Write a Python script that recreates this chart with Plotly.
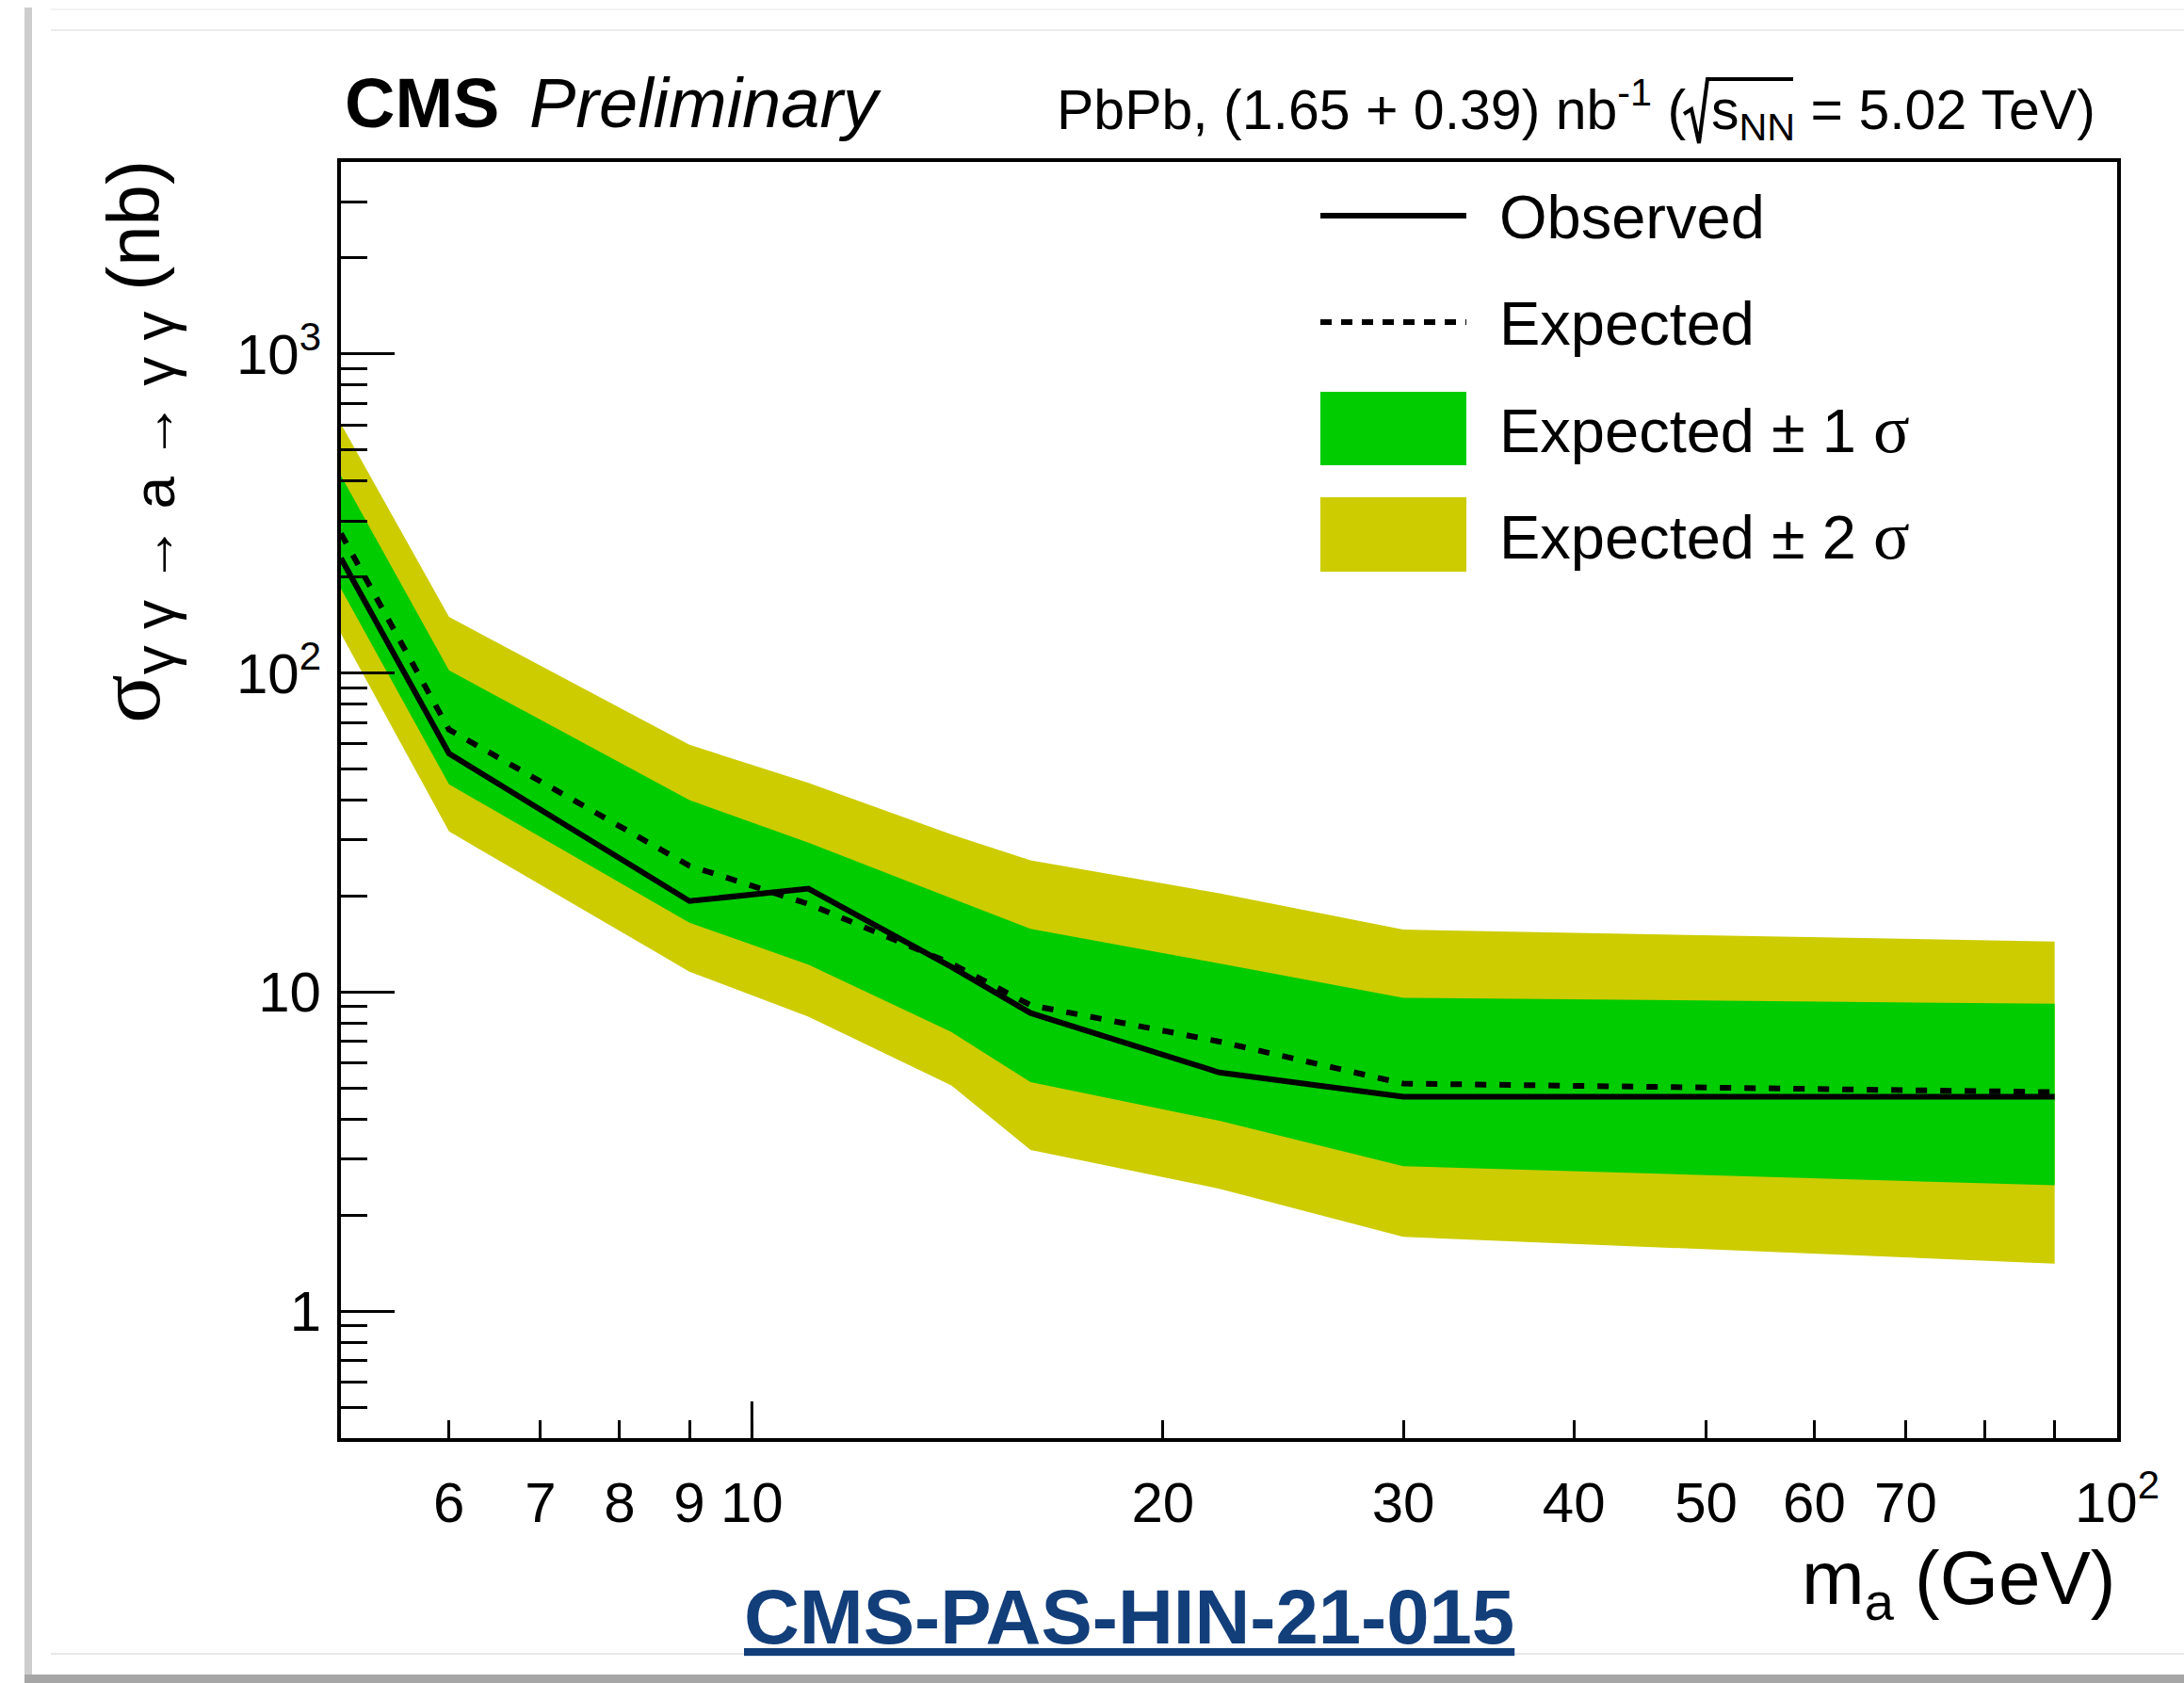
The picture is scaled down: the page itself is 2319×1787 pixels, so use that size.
import plotly.graph_objects as go

# Axion-like particle search: 95% CL upper limits on sigma(gg -> a -> gg)
mass = [5, 6, 9, 11, 14, 16, 22, 30, 90]                      # m_a (GeV)
observed = [229, 56, 19.3, 21.1, 12.0, 8.6, 5.6, 4.7, 4.7]   # nb
expected = [274, 66.5, 24.9, 18.9, 12.3, 9.1, 7.0, 5.17, 4.86]
exp_1s_up = [416, 102, 40, 29.4, 19.7, 15.8, 12.3, 9.6, 9.2]
exp_1s_dn = [184, 44.8, 16.5, 12.2, 7.5, 5.22, 3.95, 2.85, 2.48]
exp_2s_up = [605, 150, 59.6, 45.3, 31.2, 25.9, 20.4, 15.7, 14.4]
exp_2s_dn = [133, 31.9, 11.6, 8.38, 5.1, 3.2, 2.42, 1.71, 1.41]

x_tickvals = [6, 7, 8, 9, 10, 20, 30, 40, 50, 60, 70, 100]
x_ticktext = ["6", "7", "8", "9", "10", "20", "30", "40", "50", "60", "70", "10<sup>2</sup>"]
x_minor = [80, 90]
y_tickvals = [1, 10, 100, 1000]
y_ticktext = ["1", "10", "10<sup>2</sup>", "10<sup>3</sup>"]
y_minor = [0.5, 0.6, 0.7, 0.8, 0.9, 2, 3, 4, 5, 6, 7, 8, 9,
           20, 30, 40, 50, 60, 70, 80, 90, 200, 300, 400, 500, 600, 700, 800, 900,
           2000, 3000]

GREEN = "rgb(0,204,0)"
YELLOW = "rgb(204,204,0)"
FONT = "Liberation Sans, Arial, Helvetica, sans-serif"
SERIF = "Liberation Serif"

W, H = 2319, 1787
L, R, T, B = 362, 2248, 172, 1527


def px(x):
    return (x - L) / (R - L)


def py(y):
    return (B - y) / (B - T)


fig = go.Figure()

# +-2 sigma band
fig.add_trace(go.Scatter(
    x=mass + mass[::-1], y=exp_2s_up + exp_2s_dn[::-1],
    fill="toself", fillcolor=YELLOW, line=dict(width=0), mode="lines",
    hoverinfo="skip", showlegend=False))
# +-1 sigma band
fig.add_trace(go.Scatter(
    x=mass + mass[::-1], y=exp_1s_up + exp_1s_dn[::-1],
    fill="toself", fillcolor=GREEN, line=dict(width=0), mode="lines",
    hoverinfo="skip", showlegend=False))
fig.add_trace(go.Scatter(
    x=mass, y=expected, mode="lines",
    line=dict(color="black", width=6, dash="12px,14px"), showlegend=False))
fig.add_trace(go.Scatter(
    x=mass, y=observed, mode="lines",
    line=dict(color="black", width=6), showlegend=False))

shapes = []
# long tick at 10 GeV on the mass axis
shapes.append(dict(type="line", xref="x", yref="paper", x0=10, x1=10,
                   y0=0, y1=39 / (B - T), line=dict(color="black", width=3)))

# legend keys
lx0, lx1 = px(1402), px(1557)
shapes.append(dict(type="line", xref="paper", yref="paper", x0=lx0, x1=lx1,
                   y0=py(229), y1=py(229), line=dict(color="black", width=6)))
shapes.append(dict(type="line", xref="paper", yref="paper", x0=lx0, x1=lx1,
                   y0=py(342), y1=py(342),
                   line=dict(color="black", width=6, dash="12px,10px")))
shapes.append(dict(type="rect", xref="paper", yref="paper", x0=lx0, x1=lx1,
                   y0=py(494), y1=py(416), fillcolor=GREEN, line=dict(width=0)))
shapes.append(dict(type="rect", xref="paper", yref="paper", x0=lx0, x1=lx1,
                   y0=py(607), y1=py(528), fillcolor=YELLOW, line=dict(width=0)))

# radical sign over s_NN in the header
rad = [(1788, 121), (1796, 116), (1804, 152), (1813, 84), (1904, 84)]
rad_path = "M " + " L ".join(f"{px(x):.5f},{py(y):.5f}" for x, y in rad)
shapes.append(dict(type="path", xref="paper", yref="paper", path=rad_path,
                   line=dict(color="black", width=4)))

# page card edges
shapes.append(dict(type="rect", xref="paper", yref="paper", x0=px(26), x1=px(34),
                   y0=py(1778), y1=py(8), fillcolor="#cdcdcd", line=dict(width=0),
                   layer="below"))
shapes.append(dict(type="rect", xref="paper", yref="paper", x0=px(26), x1=px(W),
                   y0=py(H), y1=py(1778), fillcolor="#a6a6a6", line=dict(width=0),
                   layer="below"))
for yy, col in ((10, "#f3f3f3"), (32, "#ececec"), (1756, "#e8e8e8")):
    shapes.append(dict(type="line", xref="paper", yref="paper", x0=px(54), x1=px(W),
                       y0=py(yy), y1=py(yy), line=dict(color=col, width=2),
                       layer="below"))

ann = []
ann.append(dict(text="<b>CMS</b>", x=px(364), y=py(110), xanchor="left", yanchor="middle",
                font=dict(family=FONT, size=74, color="black")))
ann.append(dict(text="<i>Preliminary</i>", x=px(560), y=py(110), xanchor="left",
                yanchor="middle", font=dict(family=FONT, size=74, color="black")))
ann.append(dict(text="PbPb, (1.65 + 0.39) nb<sup>-1</sup> (",
                x=px(1792), y=py(113), xanchor="right", yanchor="middle",
                font=dict(family=FONT, size=59, color="black")))
ann.append(dict(text="s<sub>NN</sub> = 5.02 TeV)",
                x=px(1815), y=py(121), xanchor="left", yanchor="middle",
                font=dict(family=FONT, size=59, color="black")))

sig = f"<span style='font-family:{SERIF};font-size:72px'>σ</span>"
leg_text = ["Observed", "Expected", f"Expected ± 1 {sig}", f"Expected ± 2 {sig}"]
for t, yy in zip(leg_text, (231, 344, 456, 569)):
    ann.append(dict(text=t, x=px(1590), y=py(yy), xanchor="left", yanchor="middle",
                    font=dict(family=FONT, size=65, color="black")))

ann.append(dict(text="m<sub>a</sub> (GeV)", x=1, y=py(1681), xanchor="right",
                yanchor="middle", font=dict(family=FONT, size=80, color="black")))
ann.append(dict(
    text=f"<span style='font-family:{SERIF};font-size:96px'>σ</span>"
         "<sub><span style='font-size:62px'>γ γ → a → γ γ</span></sub> (nb)",
    x=px(140), y=py(168), xanchor="center", yanchor="top", textangle=-90,
    font=dict(family=FONT, size=78, color="black")))
ann.append(dict(text="<b><u>CMS-PAS-HIN-21-015</u></b>", x=px(1199), y=py(1717),
                xanchor="center", yanchor="middle",
                font=dict(family=FONT, size=81.5, color="rgb(18,62,122)")))

for a in ann:
    a.update(xref="paper", yref="paper", showarrow=False)

fig.update_layout(
    width=W, height=H,
    margin=dict(l=L, r=W - R, t=T, b=H - B, pad=0),
    paper_bgcolor="white", plot_bgcolor="white",
    showlegend=False,
    shapes=shapes, annotations=ann,
    xaxis=dict(
        type="log", range=[0.69897, 2.0],
        tickmode="array", tickvals=x_tickvals, ticktext=x_ticktext,
        ticks="inside", ticklen=19, tickwidth=3, tickcolor="black",
        minor=dict(tickmode="array", tickvals=x_minor, ticks="inside", ticklen=19,
                   tickwidth=3, tickcolor="black", showgrid=False),
        showgrid=False, zeroline=False,
        showline=True, linewidth=4, linecolor="black", mirror=True,
        tickfont=dict(family=FONT, size=60, color="black"),
        ticklabelstandoff=13),
    yaxis=dict(
        type="log", range=[-0.3979, 3.6021],
        tickmode="array", tickvals=y_tickvals, ticktext=y_ticktext,
        ticks="inside", ticklen=57, tickwidth=3, tickcolor="black",
        minor=dict(tickmode="array", tickvals=y_minor, ticks="inside", ticklen=28,
                   tickwidth=3, tickcolor="black", showgrid=False),
        showgrid=False, zeroline=False,
        showline=True, linewidth=4, linecolor="black", mirror=True,
        tickfont=dict(family=FONT, size=60, color="black"),
        ticklabelstandoff=5),
)

fig.write_html("out.html")
